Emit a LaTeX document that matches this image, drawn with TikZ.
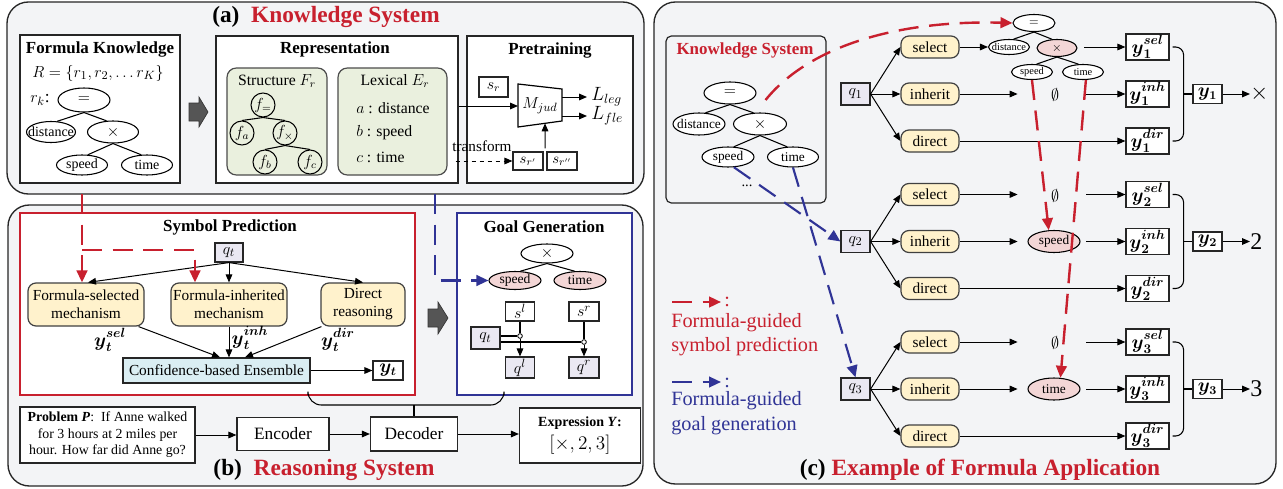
\documentclass[tikz,border=0pt]{standalone}
\usepackage{amsmath,amssymb}
\usepackage{fontspec}
\setmainfont{Liberation Serif}
\usetikzlibrary{arrows.meta,shapes.geometric,calc}
\definecolor{pgray}{RGB}{243,244,246}
\definecolor{kred}{RGB}{200,32,46}
\definecolor{kblue}{RGB}{48,52,150}
\definecolor{yel}{RGB}{255,242,204}
\definecolor{grn}{RGB}{234,240,222}
\definecolor{lav}{RGB}{234,232,242}
\definecolor{pnk}{RGB}{243,214,214}
\definecolor{lblue}{RGB}{218,238,243}
\definecolor{darkg}{RGB}{85,85,85}
\newcommand\fsz[2]{\fontsize{#1}{#2}\selectfont}
\newcommand\yy[2]{\boldsymbol{y}_{\boldsymbol{#1}}^{\boldsymbol{#2}\vphantom{g}}}
\begin{document}
\begin{tikzpicture}[x=0.75pt,y=-0.75pt,
  sz/.style 2 args={minimum width=#1*0.75pt,minimum height=#2*0.75pt},
  panel/.style={draw=black!85,line width=1pt,fill=pgray,rounded corners=16pt},
  wbox/.style={draw=black!85,fill=white,line width=0.9pt,inner sep=0pt},
  gbox/.style={draw=black!70,fill=grn,line width=0.9pt,rounded corners=7pt,inner sep=0pt},
  ybox/.style={draw=black!75,fill=yel,line width=0.9pt,rounded corners=6pt,inner sep=0pt,align=center},
  qbox/.style={draw=black!85,fill=lav,line width=0.9pt,inner sep=0pt},
  tell/.style={ellipse,draw=black,fill=white,line width=0.8pt,inner sep=0pt},
  pell/.style={ellipse,draw=black,fill=pnk,line width=0.8pt,inner sep=0pt},
  fcirc/.style={circle,draw=black,line width=0.8pt,inner sep=0pt,minimum size=18pt},
  lbl/.style={inner sep=0pt},
  arr/.style={-{Triangle[length=6pt,width=5pt]},line width=0.75pt},
  rdash/.style={draw=kred,line width=1.8pt,dash pattern=on 15pt off 8pt,-{Triangle[length=9pt,width=8pt]}},
  bdash/.style={draw=kblue,line width=1.6pt,dash pattern=on 15pt off 8pt,-{Triangle[length=9pt,width=8pt]}},
  tline/.style={line width=0.8pt},
  ttl/.style={font=\bfseries\fsz{12.7}{15}},
  ]
\useasboundingbox (0,0) rectangle (1283,489);
\fill[white] (0,0) rectangle (1283,489);

% ---------- panels
\draw[panel] (7,2) rectangle (644,194);
\draw[panel] (8,205) rectangle (643,486);
\draw[panel] (654,2) rectangle (1276,484);

% ================= (a)
\node[lbl,font=\bfseries\fsz{17.5}{20}] (ta) at (326,17) {(a)\ \ \textcolor{kred}{Knowledge System}};

\node[wbox,sz={160}{148}] (fk) at (100,109) {};
\node[lbl,ttl] (fkt) at (100,49) {Formula Knowledge};
\node[lbl,font=\fsz{13}{15}] (fkr) at (98,73) {$R=\{r_1,r_2,\dots r_K\}$};
\node[lbl,font=\fsz{13}{15}] (rk) at (40,100) {$r_k$:};
\node[tell,sz={52}{24},font=\fsz{12}{14}] (ae1) at (84,100) {\makebox[0pt]{$=$}};
\node[tell,sz={49}{21},font=\fsz{10.5}{12}] (ae2) at (51,132) {\makebox[0pt]{distance}};
\node[tell,sz={51}{22},font=\fsz{12}{14}] (ae3) at (113,132) {\makebox[0pt]{$\times$}};
\node[tell,sz={51}{20},font=\fsz{10.5}{12}] (ae4) at (82,165) {\makebox[0pt]{speed}};
\node[tell,sz={51}{20},font=\fsz{10.5}{12}] (ae5) at (147,165) {\makebox[0pt]{time}};
\draw[tline] (ae1.south) -- (ae2.60);
\draw[tline] (ae1.south) -- (ae3.120);
\draw[tline] (ae3.south) -- (ae4.60);
\draw[tline] (ae3.south) -- (ae5.120);

\filldraw[fill=darkg,draw=black!80,line width=0.5pt] (189,103) -- (199,103) -- (199,97) -- (208,112) -- (199,127) -- (199,121) -- (189,121) -- cycle;

% Representation
\node[wbox,sz={242}{147}] (rep) at (337,109.5) {};
\node[lbl,ttl] (rept) at (335,49) {Representation};
\node[gbox,sz={100}{107}] (stru) at (277,121.5) {};
\node[lbl,font=\fsz{11.8}{14}] (strut) at (277,81) {Structure $F_r$};
\node[fcirc,font=\fsz{12}{14}] (f1) at (263,105) {$f_=$};
\node[fcirc,font=\fsz{12}{14}] (f2) at (242,133) {$f_a$};
\node[fcirc,font=\fsz{12}{14}] (f3) at (285,133) {$f_\times$};
\node[fcirc,font=\fsz{12}{14}] (f4) at (265,162) {$f_b$};
\node[fcirc,font=\fsz{12}{14}] (f5) at (310,162) {$f_c$};
\draw[tline] (f1.south) -- (f2.north);
\draw[tline] (f1.south) -- (f3.north);
\draw[tline] (f3.south) -- (f4.north);
\draw[tline] (f3.south) -- (f5.north);
\node[gbox,sz={109}{107}] (lex) at (392.5,121.5) {};
\node[lbl,font=\fsz{11.8}{14}] (lext) at (395,81) {Lexical $E_r$};
\node[lbl,anchor=west,font=\fsz{11.8}{14}] (la) at (356,108) {$a$ : distance};
\node[lbl,anchor=west,font=\fsz{11.8}{14}] (lb) at (356,133) {$b$ : speed};
\node[lbl,anchor=west,font=\fsz{11.8}{14}] (lc) at (356,157) {$c$ : time};

% Pretraining
\node[wbox,sz={166}{147}] (pt) at (550,109.5) {};
\node[lbl,ttl] (ptt) at (550,50) {Pretraining};
\node[wbox,sz={29}{20},font=\fsz{12}{14}] (sr) at (493.5,87) {$s_r$};
\coordinate (m1) at (518,84);
\coordinate (m2) at (562,89);
\coordinate (m3) at (562,121);
\coordinate (m4) at (518,127);
\draw[line width=0.9pt,fill=white] (m1)--(m2)--(m3)--(m4)--cycle;
\node[lbl,font=\fsz{13}{15}] (mj) at (540,106) {$M_{jud}$};
\draw[arr] (rep.east |- mj) -- (m1 |- mj);
\node[lbl,anchor=west,font=\fsz{14}{16}] (ll) at (591,97) {$L_{leg}$};
\node[lbl,anchor=west,font=\fsz{14}{16}] (lf) at (591,116) {$L_{fle}$};
\draw[arr] (m2 |- ll) -- ($(ll.west)+(-4,0)$);
\draw[arr] (m2 |- lf) -- ($(lf.west)+(-4,0)$);
\node[wbox,sz={30}{18},font=\fsz{11}{13}] (sr1) at (528,161) {$s_{r'}$};
\node[wbox,sz={30}{18},font=\fsz{11}{13}] (sr2) at (562,161) {$s_{r''}$};
\coordinate (mbot) at ($(m4)!0.614!(m3)$);
\coordinate (srm) at ($(sr1.north east)!0.5!(sr2.north west)+(0,-3)$);
\draw[arr] (srm) -- (mbot);
\node[lbl,font=\fsz{11.4}{13}] (tf) at (482,146) {transform};
\draw[arr,dashed] ($(rep.east |- sr1)+(-3,0)$) -- (sr1.west);

% ================= (b)
\node[lbl,font=\bfseries\fsz{17.5}{20}] (tb) at (324,470) {(b)\ \ \textcolor{kred}{Reasoning System}};

\node[draw=kred,line width=1.6pt,fill=white,sz={395}{182},inner sep=0pt] (sp) at (217.5,304) {};
\node[lbl,ttl] (spt) at (230,227) {Symbol Prediction};
\node[qbox,sz={28}{19},font=\fsz{13}{15}] (qt) at (229,252.5) {$q_t$};
\node[ybox,sz={116}{43},font=\fsz{11.5}{13.5}] (fsel) at (86,304.5) {Formula-selected\\mechanism};
\node[ybox,sz={116}{43},font=\fsz{11.5}{13.5}] (finh) at (229,304.5) {Formula-inherited\\mechanism};
\node[ybox,sz={84}{43},font=\fsz{11.5}{13.5}] (fdir) at (363,304.5) {Direct\\reasoning};
\draw[arr] (qt.south) -- ($(fsel.north)+(2,0)$);
\draw[arr] (qt.south) -- (finh.north);
\draw[arr] (qt.south) -- (fdir.north);
\coordinate (rk0) at (82,194);
\draw[rdash] (rk0) -- (rk0 |- fsel.north);
\draw[rdash] (rk0 |- 0,250) -| ($(finh.north)+(-34,0)$);

\node[draw=black!85,fill=lblue,line width=0.9pt,sz={187}{25},inner sep=0pt,font=\fsz{11.5}{13}] (ens) at (216.5,370.5) {Confidence-based Ensemble};
\node[wbox,sz={30}{19},font=\fsz{13.5}{15}] (yt) at (388,370.5) {$\boldsymbol{y_t}$};
\draw[arr] (ens.east) -- (yt.west);
\node[lbl,font=\fsz{14}{15}] (ysel) at (110,340) {$\yy{t}{sel}$};
\node[lbl,font=\fsz{14}{15}] (yinh) at (250,338) {$\yy{t}{inh}$};
\node[lbl,font=\fsz{14}{15}] (ydir) at (338,340) {$\yy{t}{dir}$};
\draw[arr] ($(fsel.south east)+(-6,0)$) -- ($(ens.north)+(3.5,0)$);
\draw[arr] (finh.south) -- (finh.south |- ens.north);
\draw[arr] ($(fdir.south west)+(1,0)$) -- ($(ens.north)+(28.5,0)$);

\filldraw[fill=darkg,draw=black!80,line width=0.5pt] (428,309) -- (438,309) -- (438,302) -- (448,318) -- (438,334) -- (438,327) -- (428,327) -- cycle;

% Goal generation
\node[draw=kblue,line width=1.6pt,fill=white,sz={175}{182},inner sep=0pt] (gg) at (544.5,304) {};
\node[lbl,ttl] (ggt) at (544,227) {Goal Generation};
\node[tell,sz={52}{19},font=\fsz{12}{14}] (gx) at (547,253.5) {\makebox[0pt]{$\times$}};
\node[pell,sz={52}{18},font=\fsz{10.2}{12}] (gsp) at (515,280.5) {\makebox[0pt]{speed}};
\node[pell,sz={52}{18},font=\fsz{10.2}{12}] (gti) at (580,280.5) {\makebox[0pt]{time}};
\draw[tline] (gx.south) -- (gsp.60);
\draw[tline] (gx.south) -- (gti.120);
\coordinate (bk0) at (435,194);
\draw[bdash] (bk0) |- (gsp.west);
\node[wbox,sz={29}{19},font=\fsz{13}{15}] (sl) at (520,311.5) {$s^l$};
\node[wbox,sz={30}{19},font=\fsz{13}{15}] (sr3) at (584,311.5) {$s^r$};
\node[qbox,sz={29}{22},font=\fsz{13}{15}] (qt2) at (485.5,338) {$q_t$};
\node[qbox,sz={29}{21},font=\fsz{13}{15}] (ql) at (520,367.5) {$q^l$};
\node[qbox,sz={30}{21},font=\fsz{13}{15}] (qr) at (584,367.5) {$q^r$};
\node[circle,draw,fill=white,inner sep=0pt,minimum size=3.5pt,line width=0.6pt] (c1) at (520,336) {};
\node[circle,draw,fill=white,inner sep=0pt,minimum size=3.5pt,line width=0.6pt] (c2) at (584,342) {};
\draw[tline] (qt2.east |- c1) -- (c1.west);
\draw[tline] (qt2.east |- c2) -- (c2.west);
\draw[tline] (sl.south) -- (c1.north);
\draw[arr] (c1.south) -- (ql.north);
\draw[tline] (sr3.south) -- (c2.north);
\draw[arr] (c2.south) -- (qr.north);

% bottom row
\node[wbox,sz={175}{56},align=center,font=\fsz{10.4}{12.4}] (prob) at (107.5,435) {\textbf{Problem \textit{P}}:\ \ If Anne walked\\for 3 hours at 2 miles per\\hour. How far did Anne go?};
\node[wbox,sz={92}{33},font=\fsz{13}{15}] (enc) at (283,434) {Encoder};
\node[wbox,sz={87}{34},font=\fsz{13}{15}] (dec) at (414,434) {Decoder};
\node[wbox,sz={121}{55},align=center] (expr) at (580,435.5) {{\fsz{10.5}{12}\textbf{Expression \textit{Y}:}}\\[3pt]{\fsz{14}{16}$[\times,2,3]$}};
\draw[arr] (prob.east) -- (prob.east -| enc.west);
\draw[arr] (enc.east) -- (enc.east -| dec.west);
\draw[arr] (dec.east) -- (dec.east -| expr.west);
\coordinate (bl) at (308,395);
\coordinate (br) at (504,395);
\draw[tline,rounded corners=10pt] (bl) -- (308,405) -- (504,405) -- (br);
\draw[tline] (dec.north |- 0,405) -- (dec.north);

% ================= (c)
\node[lbl,font=\bfseries\fsz{17.5}{20}] (tc) at (980,470) {(c)\ \textcolor{kred}{Example of Formula Application}};

\node[draw=black!85,fill=pgray,line width=0.9pt,rounded corners=4pt,sz={160}{167},inner sep=0pt] (kb) at (746,119.5) {};
\node[lbl,ttl,text=kred] (kbt) at (745,50) {Knowledge System};
\node[tell,sz={52}{22},font=\fsz{12}{14}] (ke1) at (730,93) {\makebox[0pt]{$=$}};
\node[tell,sz={52}{22},font=\fsz{10}{12}] (ke2) at (699,124) {\makebox[0pt]{distance}};
\node[tell,sz={53}{22},font=\fsz{12}{14}] (ke3) at (760,124) {\makebox[0pt]{$\times$}};
\node[tell,sz={52}{20},font=\fsz{10}{12}] (ke4) at (728,157) {\makebox[0pt]{speed}};
\node[tell,sz={51}{20},font=\fsz{10}{12}] (ke5) at (793,157) {\makebox[0pt]{time}};
\draw[tline] (ke1.south) -- (ke2.60);
\draw[tline] (ke1.south) -- (ke3.120);
\draw[tline] (ke3.south) -- (ke4.60);
\draw[tline] (ke3.south) -- (ke5.120);
\node[lbl,font=\fsz{11}{13}] (kdots) at (747,186) {...};

% small tree
\node[tell,sz={42}{17},font=\fsz{9}{10}] (se1) at (1034,23) {\makebox[0pt]{$=$}};
\node[tell,sz={41}{15},font=\fsz{7.8}{9}] (se2) at (1009,47) {\makebox[0pt]{distance}};
\node[pell,sz={40}{17},font=\fsz{9}{10}] (se3) at (1057,48) {\makebox[0pt]{$\times$}};
\node[tell,sz={41}{15},font=\fsz{7.8}{9}] (se4) at (1032,72) {\makebox[0pt]{speed}};
\node[tell,sz={41}{15},font=\fsz{7.8}{9}] (se5) at (1083,72) {\makebox[0pt]{time}};
\draw[tline] (se1.south) -- (se2.60);
\draw[tline] (se1.south) -- (se3.120);
\draw[tline] (se3.south) -- (se4.60);
\draw[tline] (se3.south) -- (se5.120);

\coordinate (rc0) at ($(ke1.east)+(9,7)$);
\draw[rdash] (rc0) .. controls (810,45) and (900,20) .. (se1.west);

\foreach \i/\b/\ans in {1/94/{$\times$},2/241.5/2,3/389/3}{
  \node[qbox,sz={29}{22},font=\fsz{13}{15}] (q\i) at (855.5,\b) {$q_{\i}$};
  \node[ybox,sz={58}{22},font=\fsz{11.5}{13}] (sel\i) at (930,\b-47) {select};
  \node[ybox,sz={58}{22},font=\fsz{11.5}{13}] (inh\i) at (930,\b) {inherit};
  \node[ybox,sz={58}{22},font=\fsz{11.5}{13}] (dir\i) at (930,\b+47) {direct};
  \draw[arr] (q\i.east) -- (sel\i.west);
  \draw[arr] (q\i.east) -- (inh\i.west);
  \draw[arr] (q\i.east) -- (dir\i.west);
  \node[wbox,sz={43}{26},font=\fsz{14}{15}] (ys\i) at (1147.5,\b-47) {$\yy{\i}{sel}$};
  \node[wbox,sz={43}{26},font=\fsz{14}{15}] (yi\i) at (1147.5,\b) {$\yy{\i}{inh}$};
  \node[wbox,sz={43}{26},font=\fsz{14}{15}] (yd\i) at (1147.5,\b+47) {$\yy{\i}{dir}$};
  \draw[tline,rounded corners=6pt] ($(ys\i.east)+(3,0)$) -- ($(ys\i.east)+(14,0)$) -- ($(yd\i.east)+(14,0)$) -- ($(yd\i.east)+(3,0)$);
  \node[wbox,sz={29}{19},font=\fsz{13.5}{15}] (yy\i) at (1207.5,\b) {$\boldsymbol{y_{\i}}$};
  \draw[tline] ($(yi\i.east)+(14,0)$) -- (yy\i.west);
  \node[lbl,anchor=west,font=\fsz{18}{20}] (an\i) at (1250,\b) {\ans};
  \draw[arr] (yy\i.east) -- (an\i.west);
  \draw[arr] (dir\i.east) -- (yd\i.west);
  \draw[arr] (inh\i.east) -- ++(58,0);
  \draw[arr] ($(yi\i.west)+(-39,0)$) -- (yi\i.west);
}
% row 1 middle
\draw[arr] (sel1.east) -- (se2.west);
\draw[arr] ($(ys1.west)+(-41,0)$) -- (ys1.west);
\node[lbl,font=\fsz{13}{15}] (e1i) at (1055,95) {$\emptyset$};
% row 2 middle
\node[lbl,font=\fsz{13}{15}] (e2s) at (1055,195.5) {$\emptyset$};
\draw[arr] (sel2.east) -- ++(58,0);
\draw[arr] ($(ys2.west)+(-39,0)$) -- (ys2.west);
\node[pell,sz={52}{22},font=\fsz{10}{12}] (p2) at (1054,241.5) {\makebox[0pt]{speed}};
% row 3 middle
\node[lbl,font=\fsz{13}{15}] (e3s) at (1055,343) {$\emptyset$};
\draw[arr] (sel3.east) -- ++(58,0);
\draw[arr] ($(ys3.west)+(-39,0)$) -- (ys3.west);
\node[pell,sz={52}{22},font=\fsz{10}{12}] (p3) at (1054,389) {\makebox[0pt]{time}};

\draw[rdash] (se4.south) -- (p2.115);
\draw[rdash] (se5.-70) -- (p3.60);
\draw[bdash] (ke4.-60) -- (q2.west);
\draw[bdash] (ke5.south) -- (q3.north);

% legend
\coordinate (lr0) at (672,302);
\coordinate (lr1) at (721,302);
\draw[rdash] (lr0) -- (lr1);
\node[lbl,anchor=west,text=kred,font=\fsz{15}{18}] (lrc) at (724,302) {:};
\node[lbl,anchor=north west,align=left,text=kred,font=\fsz{15.2}{18}] (lrt) at (671,313) {Formula-guided\\symbol prediction};
\coordinate (lb0) at (672,382);
\coordinate (lb1) at (721,382);
\draw[bdash] (lb0) -- (lb1);
\node[lbl,anchor=west,text=kblue,font=\fsz{15}{18}] (lbc) at (724,383) {:};
\node[lbl,anchor=north west,align=left,text=kblue,font=\fsz{15.2}{18.75}] (lbt) at (671,391) {Formula-guided\\goal generation};
\end{tikzpicture}
\end{document}
